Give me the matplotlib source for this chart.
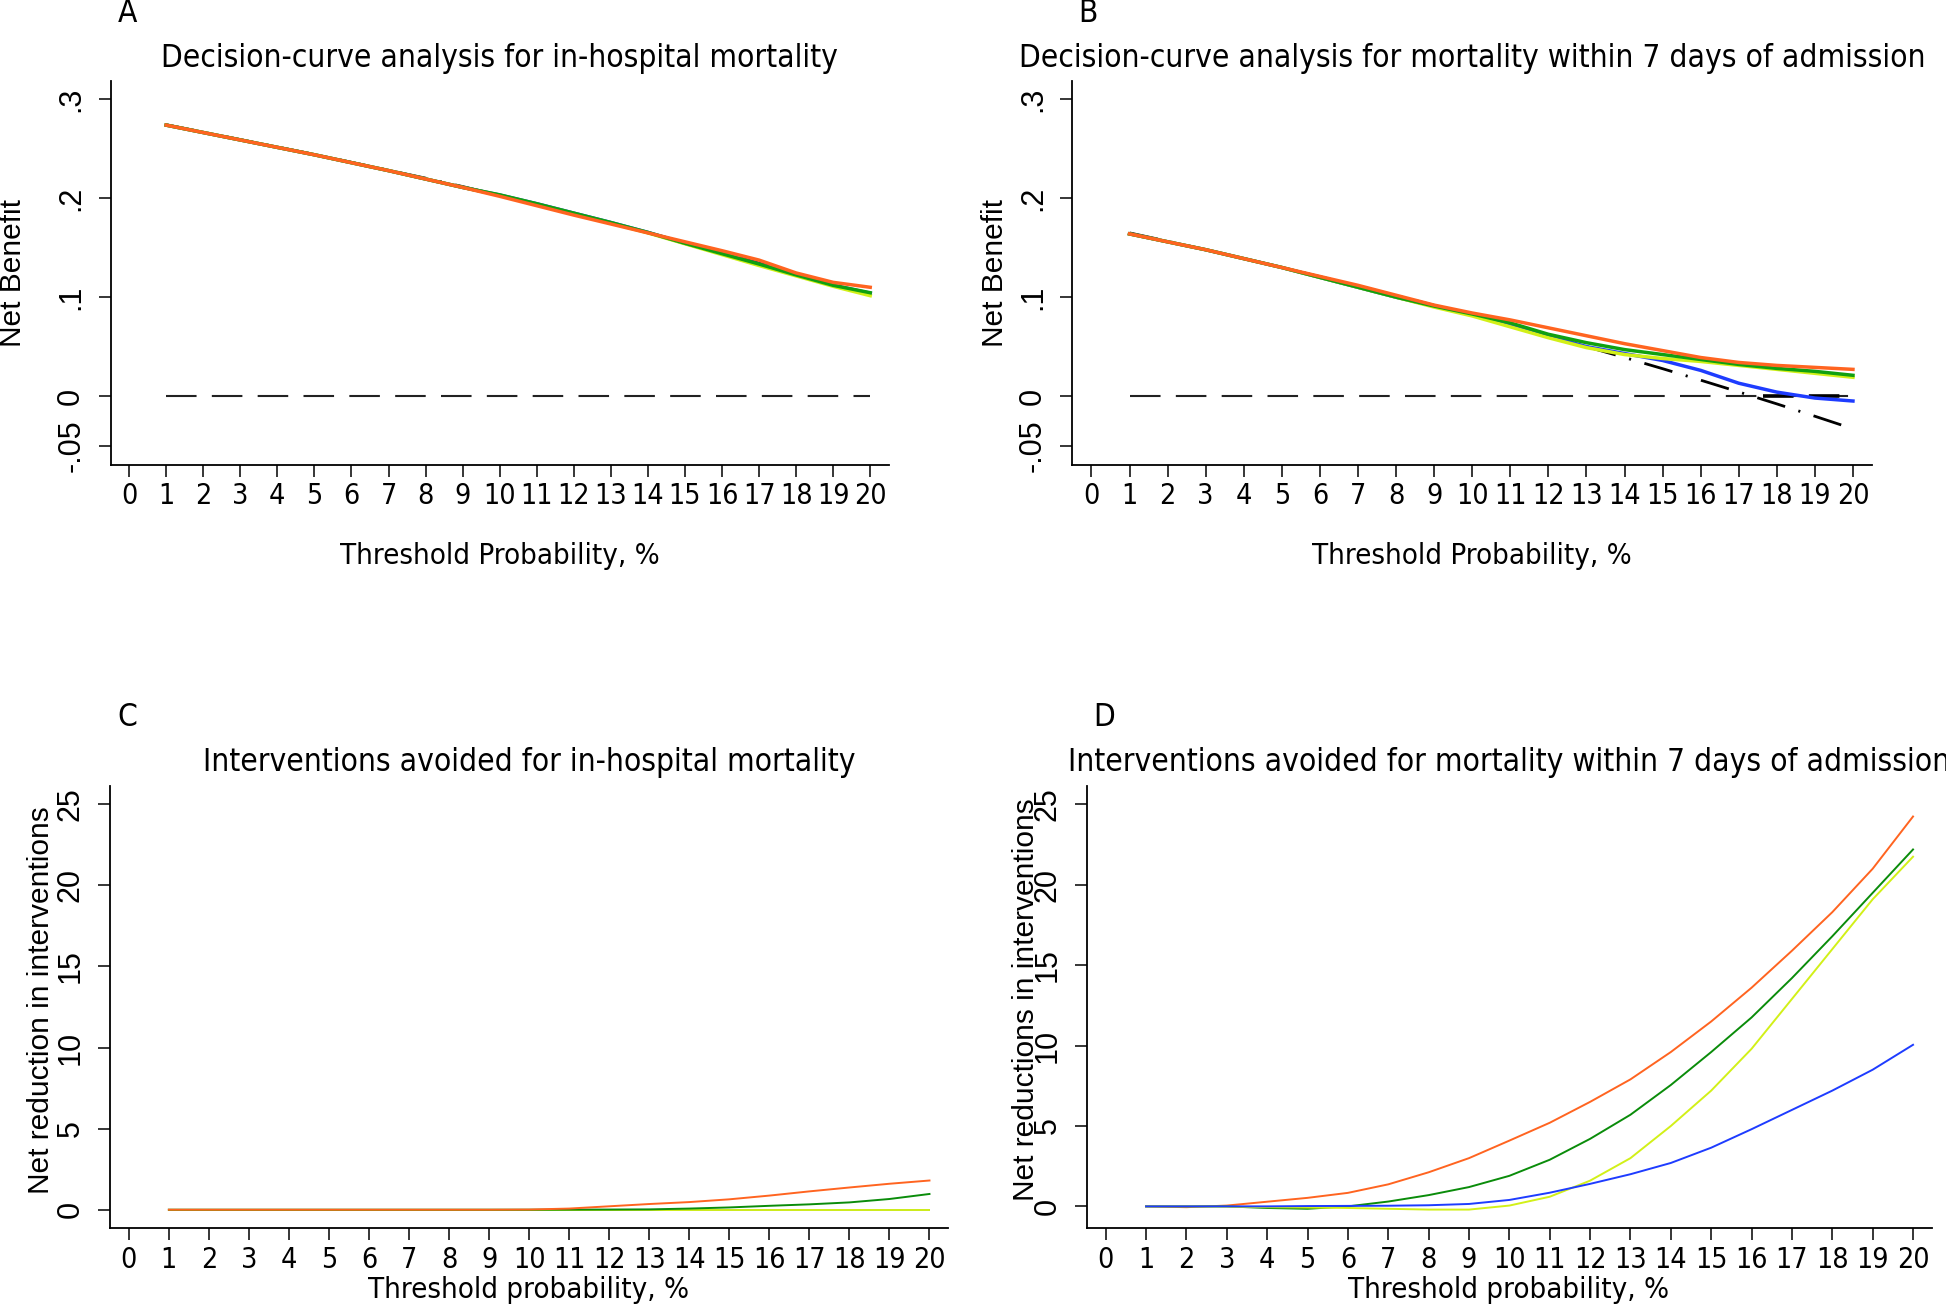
import matplotlib
matplotlib.use("Agg")
import matplotlib.pyplot as plt
from matplotlib import font_manager as fm
import numpy as np

# ---------------- data ----------------
thresholds = list(range(1, 21))
xticks = list(range(0, 21))

# Panel A: net benefit, in-hospital mortality
A_treat_all = [.2745, .267, .2595, .252, .2445, .2365, .2285, .2205, .212, .203,
               .194, .1845, .175, .165, .155, .145, .1345, .124, .1135, .103]
A_blue = [.274, .2665, .259, .2515, .244, .236, .228, .2195, .211, .2033,
          .1945, .185, .1755, .1655, .1545, .144, .1335, .1225, .112, .104]
A_yellow = [.274, .2665, .259, .2515, .244, .236, .228, .2195, .211, .203,
            .194, .1845, .175, .165, .154, .143, .132, .1215, .111, .1015]
A_green = [.274, .2665, .259, .2515, .244, .236, .228, .2195, .211, .2035,
           .1945, .185, .1755, .1655, .1545, .144, .1335, .1225, .112, .1045]
A_orange = [.274, .2665, .259, .2515, .244, .236, .228, .2195, .211, .202,
            .1925, .183, .174, .165, .156, .147, .1375, .1245, .115, .110]

# Panel B: net benefit, mortality within 7 days
B_treat_all = [.165, .1566, .1479, .1391, .1300, .1208, .1113, .1016, .0918, .0817,
               .0714, .0608, .0500, .0390, .0277, .0161, .0042, -.0079, -.0204, -.0331]
B_blue = [.164, .156, .148, .139, .130, .120, .110, .100, .091, .082,
          .072, .061, .050, .043, .036, .026, .013, .004, -.002, -.005]
B_yellow = [.164, .156, .148, .139, .130, .120, .110, .100, .090, .081,
            .070, .059, .049, .042, .038, .035, .031, .027, .023, .019]
B_green = [.164, .156, .148, .139, .130, .120, .110, .100, .091, .083,
           .074, .0625, .054, .047, .042, .037, .032, .028, .025, .021]
B_orange = [.164, .156, .148, .139, .130, .121, .112, .102, .092, .084,
            .077, .069, .061, .053, .046, .039, .034, .031, .029, .027]
B_overlap_x = [17.65, 19.65]

# Panel C: interventions avoided, in-hospital mortality
C_blue = [0.0] * 20
C_yellow = [0.0] * 20
C_green = [0, 0, 0, 0, 0, 0, 0, 0, 0, 0, 0.005, 0.01, 0.02, 0.07, 0.14, 0.24, 0.33, 0.45, 0.66, 0.97]
C_orange = [0, 0, 0, 0, 0, 0, 0, 0, 0, 0.01, 0.07, 0.21, 0.35, 0.47, 0.64, 0.87, 1.13, 1.37, 1.6, 1.8]

# Panel D: interventions avoided, mortality within 7 days
D_blue = [0.0, 0.0, 0.0, 0.0, 0.02, 0.03, 0.04, 0.07, 0.15, 0.4,
          0.85, 1.4, 2.0, 2.7, 3.65, 4.8, 6.0, 7.2, 8.5, 10.05]
D_yellow = [0.0, 0.0, -0.02, -0.05, -0.07, -0.1, -0.15, -0.2, -0.2, 0.05,
            0.6, 1.6, 3.0, 5.0, 7.2, 9.8, 12.9, 16.0, 19.1, 21.75]
D_green = [0.0, 0.0, 0.0, -0.1, -0.15, 0.0, 0.3, 0.7, 1.2, 1.9,
           2.9, 4.2, 5.7, 7.55, 9.6, 11.75, 14.2, 16.8, 19.5, 22.2]
D_orange = [0.0, -0.05, 0.05, 0.29, 0.53, 0.84, 1.37, 2.12, 3.0, 4.09,
            5.2, 6.5, 7.9, 9.6, 11.5, 13.6, 15.9, 18.3, 21.0, 24.25]

titles = ["Decision-curve analysis for in-hospital mortality",
          "Decision-curve analysis for mortality within 7 days of admission",
          "Interventions avoided for in-hospital mortality",
          "Interventions avoided for mortality within 7 days of admission"]
letters = ["A", "B", "C", "D"]
ylabels = ["Net Benefit", "Net Benefit",
           "Net reduction in interventions", "Net reductions in interventions"]
xlabels = ["Threshold Probability, %", "Threshold Probability, %",
           "Threshold probability, %", "Threshold probability, %"]
nb_ticks = [-0.05, 0, 0.1, 0.2, 0.3]
nb_ticklabels = ["-.05", "0", ".1", ".2", ".3"]
ia_ticks = [0, 5, 10, 15, 20, 25]

# ---------------- style ----------------
names = {f.name for f in fm.fontManager.ttflist}
NARROW = "Liberation Sans Narrow" if "Liberation Sans Narrow" in names else "DejaVu Sans"
NARROW_STRETCH = "normal" if NARROW == "Liberation Sans Narrow" else "condensed"
ARIAL = "Liberation Sans" if "Liberation Sans" in names else "DejaVu Sans"

ORANGE = "#FF6420"
GREEN_AB = "#10A010"
GREEN_CD = "#0A8C0A"
YELLOW = "#D2F018"
BLUE = "#1E3CFF"

W, H = 1946, 1306
DPI = 100
plt.rcParams["lines.scale_dashes"] = False
fig = plt.figure(figsize=(W / DPI, H / DPI), dpi=DPI)
fig.patch.set_facecolor("white")


def px2fig(x, y):
    return x / W, 1 - y / H


def make_axes(left, top, right, bottom):
    return fig.add_axes([left / W, 1 - bottom / H, (right - left) / W, (bottom - top) / H])


axA = make_axes(110.6, 81, 888.75, 465)
axB = make_axes(1072.4, 81, 1872, 465)
axC = make_axes(110, 785.8, 947.5, 1228.4)
axD = make_axes(1087, 785.8, 1932, 1228.4)

for ax in (axA, axB, axC, axD):
    ax.set_facecolor("white")
    for s in ("top", "right"):
        ax.spines[s].set_visible(False)
    for s in ("left", "bottom"):
        ax.spines[s].set_linewidth(1.3)
        ax.spines[s].set_color("black")
    ax.set_xticks(xticks)
    ax.set_xticklabels([str(t) for t in xticks], fontfamily=NARROW,
                       fontstretch=NARROW_STRETCH, fontsize=20.5)
    ax.tick_params(axis="both", direction="out", length=8.6, width=1.1, color="black")
    ax.tick_params(axis="x", pad=4)
    ax.tick_params(axis="y", pad=9)

for ax in (axA, axB):
    ax.set_xlim(-0.5, 20.5)
    ax.set_ylim(-0.0697, 0.3186)
    ax.set_yticks(nb_ticks)
    ax.set_yticklabels(nb_ticklabels, rotation=90, va="center",
                       fontfamily=ARIAL, fontsize=22)

axC.set_xlim(-0.47, 20.45)
axC.set_ylim(-1.153, 26.14)
axD.set_xlim(-0.463, 20.47)
axD.set_ylim(-1.37, 26.16)
for ax in (axC, axD):
    ax.set_yticks(ia_ticks)
    ax.set_yticklabels([str(t) for t in ia_ticks], rotation=90, va="center",
                       fontfamily=ARIAL, fontsize=22)

zero_line = [0.0] * 20

# Panel A
axA.plot(thresholds, zero_line, color="#222222", lw=1.5, ls=(0, (22, 11)))
axA.plot(thresholds, A_treat_all, color="black", lw=1.8, ls=(0, (21, 10, 1.5, 10)))
lwAB = 2.5
axA.plot(thresholds, A_blue, color=BLUE, lw=lwAB)
axA.plot(thresholds, A_yellow, color=YELLOW, lw=lwAB)
axA.plot(thresholds, A_green, color=GREEN_AB, lw=lwAB)
axA.plot(thresholds, A_orange, color=ORANGE, lw=lwAB)

# Panel B
axB.plot(thresholds, zero_line, color="#222222", lw=1.5, ls=(0, (22, 11)))
axB.plot(B_overlap_x, [0, 0], color="black", lw=2.6, ls=(0, (22, 11)))
axB.plot(thresholds, B_treat_all, color="black", lw=2.0, ls=(0, (21, 10, 1.5, 10)))
axB.plot(thresholds, B_blue, color=BLUE, lw=lwAB)
axB.plot(thresholds, B_yellow, color=YELLOW, lw=lwAB)
axB.plot(thresholds, B_green, color=GREEN_AB, lw=lwAB)
axB.plot(thresholds, B_orange, color=ORANGE, lw=lwAB)

# Panel C
lwCD = 1.4
axC.plot(thresholds, C_blue, color=BLUE, lw=lwCD)
axC.plot(thresholds, C_yellow, color=YELLOW, lw=lwCD)
axC.plot(thresholds, C_green, color=GREEN_CD, lw=lwCD)
axC.plot(thresholds, C_orange, color=ORANGE, lw=lwCD)

# Panel D
axD.plot(thresholds, D_orange, color=ORANGE, lw=lwCD)
axD.plot(thresholds, D_green, color=GREEN_CD, lw=lwCD)
axD.plot(thresholds, D_yellow, color=YELLOW, lw=lwCD)
axD.plot(thresholds, D_blue, color=BLUE, lw=lwCD)

# ---------------- texts ----------------
title_pos = [(499.7, 58), (1472.2, 58), (528.8, 762.5), (1509.5, 762.5)]
letter_pos = [(127, 14), (1088, 14), (127, 718), (1104, 718)]
ylabel_pos = [(13, 273), (995, 273), (41, 1000), (1026, 1000)]
xlabel_pos = [(500, 556), (1472, 556), (529, 1290), (1509, 1290)]

for i in range(4):
    x, y = px2fig(*title_pos[i])
    fig.text(x, y, titles[i], ha="center", va="center", fontfamily=NARROW,
             fontstretch=NARROW_STRETCH, fontsize=22.7)
    x, y = px2fig(*letter_pos[i])
    fig.text(x, y, letters[i], ha="center", va="center", fontfamily=NARROW,
             fontstretch=NARROW_STRETCH, fontsize=22.7)
    x, y = px2fig(*ylabel_pos[i])
    fig.text(x, y, ylabels[i], ha="center", va="center", rotation=90,
             fontfamily=ARIAL, fontsize=21.5)
    x, y = px2fig(*xlabel_pos[i])
    fig.text(x, y, xlabels[i], ha="center", va="center", fontfamily=NARROW,
             fontstretch=NARROW_STRETCH, fontsize=21.1)

fig.savefig("out.png", dpi=DPI, facecolor="white")
